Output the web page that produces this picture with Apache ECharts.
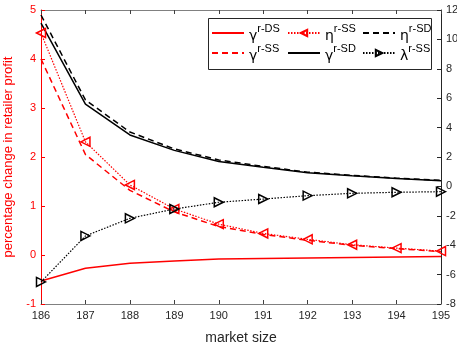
<!DOCTYPE html>
<html>
<head>
<meta charset="utf-8">
<script src="https://cdn.jsdelivr.net/npm/echarts@6/dist/echarts.min.js"></script>
<style>
  html, body { margin: 0; padding: 0; background: #fff; }
  #chart { width: 457px; height: 347px; }
</style>
</head>
<body>
<div id="chart"></div>
<script>
// Market sizes along the x axis
var marketSize = [186, 187, 188, 189, 190, 191, 192, 193, 194, 195];

// Left axis (percentage change in retailer profit)
var gammaDS = [-0.53, -0.27, -0.17, -0.12, -0.08, -0.07, -0.06, -0.05, -0.04, -0.03];
var gammaSS = [4.0, 2.05, 1.32, 0.88, 0.58, 0.42, 0.30, 0.20, 0.13, 0.07];
var etaSS   = [4.53, 2.31, 1.43, 0.94, 0.63, 0.44, 0.32, 0.21, 0.14, 0.08];

// Right axis
var gammaSD  = [11.1, 5.6, 3.5, 2.45, 1.7, 1.3, 0.93, 0.72, 0.54, 0.39];
var etaSD    = [11.66, 5.88, 3.7, 2.55, 1.8, 1.36, 0.97, 0.75, 0.56, 0.41];
var lambdaSS = [-6.5, -3.37, -2.17, -1.54, -1.08, -0.86, -0.63, -0.47, -0.40, -0.36];

// Tick settings
var leftTicks = { min: -1, max: 5, interval: 1 };
var rightTicks = { min: -8, max: 12, interval: 2 };

var RED = '#ff0000';
var BLACK = '#000000';
var GRAY = '#262626';
var FONT = 'Liberation Sans, Arial, Helvetica, sans-serif';

function pairs(vals) {
  return marketSize.map(function (x, i) { return [x, vals[i]]; });
}

// Legend names carry a Greek letter and a superscript tag
var names = {
  gDS: 'γ|r-DS', gSS: 'γ|r-SS', eSS: 'η|r-SS',
  gSD: 'γ|r-SD', eSD: 'η|r-SD', lSS: 'λ|r-SS'
};

function legendLabel(name) {
  var p = name.split('|');
  return '{g|' + p[0] + '}{s|' + p[1] + '}';
}

var richText = {
  g: { fontSize: 14, lineHeight: 20, verticalAlign: 'bottom', color: BLACK, fontFamily: 'DejaVu Sans, sans-serif', padding: [5, 0, 0, 0] },
  s: { fontSize: 11, lineHeight: 20, verticalAlign: 'top', color: BLACK, fontFamily: FONT, padding: [0, 0, 5, 0] }
};

// Plain line entries get no symbol in their legend icon
function plainItem(name) {
  return { name: name, itemStyle: { opacity: 0 } };
}

function makeLegend(left, items) {
  return {
    left: left, top: 18, orient: 'vertical', z: 20,
    itemWidth: 32, itemHeight: 8, itemGap: 0,
    data: items,
    formatter: legendLabel,
    textStyle: { rich: richText, padding: [0, 0, 0, 0] },
    selectedMode: false
  };
}

var chart = echarts.init(document.getElementById('chart'), null, { renderer: 'canvas' });

var axisCommonX = {
  type: 'value', min: 186, max: 195, interval: 1,
  axisLine: { show: true, onZero: false, lineStyle: { color: '#808080', width: 1 } },
  axisTick: { show: true, inside: true, length: 4, lineStyle: { color: '#404040' } },
  splitLine: { show: false }
};

var option = {
  animation: false,
  backgroundColor: '#fff',
  grid: { left: 41, right: 16, top: 10, bottom: 43, containLabel: false, outerBoundsMode: 'none' },
  graphic: [{
    type: 'rect',
    shape: { x: 208.5, y: 18.5, width: 223, height: 51 },
    style: { fill: '#fff', stroke: '#262626', lineWidth: 1 },
    z: 10
  }],
  legend: [
    makeLegend(206, [plainItem(names.gDS), plainItem(names.gSS)]),
    makeLegend(282, [names.eSS, plainItem(names.gSD)]),
    makeLegend(357, [plainItem(names.eSD), names.lSS])
  ],
  xAxis: [Object.assign({}, axisCommonX, {
    position: 'bottom',
    name: 'market size', nameLocation: 'middle', nameGap: 27,
    nameTextStyle: { color: GRAY, fontSize: 14, fontFamily: FONT },
    axisLabel: { color: GRAY, fontSize: 11, fontFamily: FONT, margin: 6 }
  }), Object.assign({}, axisCommonX, {
    position: 'top',
    axisLabel: { show: false }
  })],
  yAxis: [{
    type: 'value', min: leftTicks.min, max: leftTicks.max, interval: leftTicks.interval,
    position: 'left',
    name: 'percentage change in retailer profit', nameLocation: 'middle', nameGap: 22,
    nameTextStyle: { color: RED, fontSize: 13, fontFamily: FONT },
    axisLine: { show: true, onZero: false, lineStyle: { color: RED, width: 1 } },
    axisTick: { show: true, inside: true, length: 4, lineStyle: { color: RED } },
    axisLabel: { color: RED, fontSize: 11, fontFamily: FONT, margin: 5 },
    splitLine: { show: false }
  }, {
    type: 'value', min: rightTicks.min, max: rightTicks.max, interval: rightTicks.interval,
    position: 'right',
    axisLine: { show: true, onZero: false, lineStyle: { color: '#262626', width: 1 } },
    axisTick: { show: true, inside: true, length: 4, lineStyle: { color: '#262626' } },
    axisLabel: { color: GRAY, fontSize: 11, fontFamily: FONT, margin: 5 },
    splitLine: { show: false }
  }],
  series: [{
    name: names.gDS, type: 'line', yAxisIndex: 0, data: pairs(gammaDS),
    symbol: 'none', lineStyle: { color: RED, width: 1.5, type: 'solid' },
    itemStyle: { color: RED }
  }, {
    name: names.gSS, type: 'line', yAxisIndex: 0, data: pairs(gammaSS),
    symbol: 'none', lineStyle: { color: RED, width: 1.5, type: [6, 4] },
    itemStyle: { color: RED }
  }, {
    name: names.eSS, type: 'line', yAxisIndex: 0, data: pairs(etaSS),
    symbol: 'triangle', symbolSize: 9, symbolRotate: 90, showAllSymbol: true,
    lineStyle: { color: RED, width: 1.2, type: [1.5, 1.5] },
    itemStyle: { color: 'rgba(0,0,0,0)', borderColor: RED, borderWidth: 1.5 }
  }, {
    name: names.gSD, type: 'line', yAxisIndex: 1, data: pairs(gammaSD),
    symbol: 'none', lineStyle: { color: BLACK, width: 1.5, type: 'solid' },
    itemStyle: { color: BLACK }
  }, {
    name: names.eSD, type: 'line', yAxisIndex: 1, data: pairs(etaSD),
    symbol: 'none', lineStyle: { color: BLACK, width: 1.5, type: [6, 4] },
    itemStyle: { color: BLACK }
  }, {
    name: names.lSS, type: 'line', yAxisIndex: 1, data: pairs(lambdaSS),
    symbol: 'triangle', symbolSize: 9, symbolRotate: -90, showAllSymbol: true,
    lineStyle: { color: BLACK, width: 1.2, type: [1.5, 1.5] },
    itemStyle: { color: 'rgba(0,0,0,0)', borderColor: BLACK, borderWidth: 1.5 }
  }]
};

chart.setOption(option);
</script>
</body>
</html>
